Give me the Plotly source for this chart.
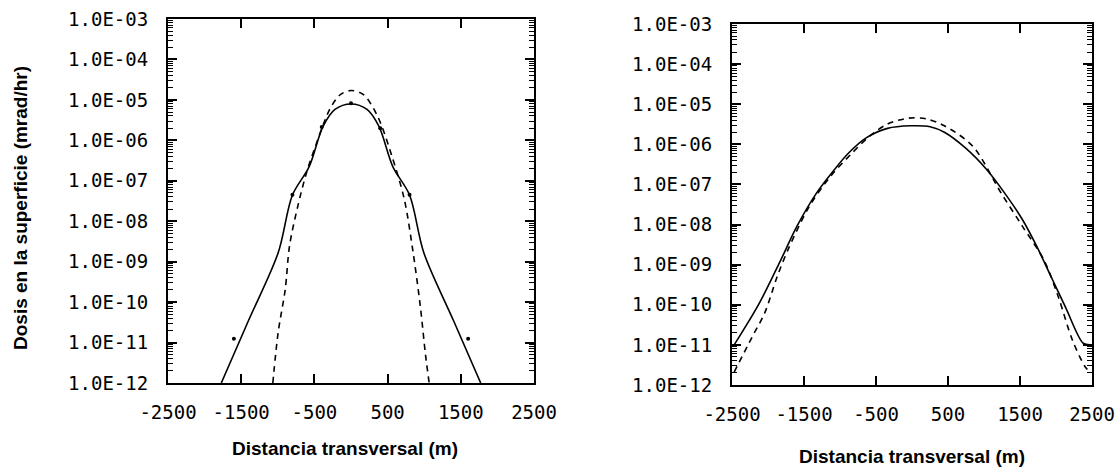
import plotly.graph_objects as go

# ---------------- data ----------------
left_solid_x = [-1772, -1400, -995, -801, -573, -382, -219, 0, 219, 382, 573, 801, 995, 1400, 1772]
left_solid_y = [1.0e-12, 3.5e-11, 1.66e-9, 4.4e-8, 2.2e-7, 2.2e-6, 5.8e-6, 7.9e-6,
                5.8e-6, 2.2e-6, 2.2e-7, 4.4e-8, 1.66e-9, 3.5e-11, 1.0e-12]

left_dash_x = [-1068, -995, -898, -840, -728, -607, -486, -291, -146, 0, 170, 364, 558, 728, 849, 946, 1019, 1068]
left_dash_y = [1.0e-12, 1.78e-11, 2.1e-10, 2.45e-9, 2.3e-8, 1.6e-7, 7.1e-7, 5.8e-6, 1.35e-5, 1.7e-5,
               1.35e-5, 3.9e-6, 4.1e-7, 3.5e-8, 1.66e-9, 8.1e-11, 4.8e-12, 1.0e-12]

left_pts_x = [-1600, -800, -400, 0, 400, 800, 1600]
left_pts_y = [1.25e-11, 4.5e-8, 2.15e-6, 8.3e-6, 2.0e-6, 4.5e-8, 1.25e-11]

right_solid_x = [-2470, -2120, -1823, -1601, -1329, -1082, -884, -637, -341, -20, 252, 450, 746,
                 1042, 1290, 1537, 1735, 1932, 2130, 2377, 2470]
right_solid_y = [1.0e-11, 1.1e-10, 1.3e-9, 8.9e-9, 6.0e-8, 2.3e-7, 6.0e-7, 1.45e-6, 2.5e-6, 2.9e-6,
                 2.75e-6, 2.0e-6, 8.0e-7, 2.3e-7, 6.0e-8, 1.3e-8, 2.8e-9, 5.0e-10, 8.9e-11, 1.1e-11, 1.0e-11]

right_dash_x = [-2470, -2218, -2045, -1873, -1725, -1428, -1131, -835, -588, -341, -44, 203, 450,
                845, 1240, 1537, 1833, 2031, 2229, 2402, 2470]
right_dash_y = [2.1e-12, 1.6e-11, 6.3e-11, 5.0e-10, 2.3e-9, 2.8e-8, 1.6e-7, 6.0e-7, 1.6e-6, 3.2e-6,
                4.5e-6, 4.3e-6, 2.9e-6, 8.9e-7, 6.0e-8, 8.9e-9, 1.3e-9, 1.6e-10, 1.3e-11, 2.9e-12, 2.1e-12]

x_tick_vals = [-2500, -1500, -500, 500, 1500, 2500]
x_tick_text = ["-2500", "-1500", "-500", "500", "1500", "2500"]
y_tick_vals = [1e-3, 1e-4, 1e-5, 1e-6, 1e-7, 1e-8, 1e-9, 1e-10, 1e-11, 1e-12]
y_tick_text = ["1.0E-03", "1.0E-04", "1.0E-05", "1.0E-06", "1.0E-07",
               "1.0E-08", "1.0E-09", "1.0E-10", "1.0E-11", "1.0E-12"]
y_minor_mult = [2, 3, 4, 5, 6, 7, 8, 9]

x_title = "Distancia transversal (m)"
y_title = "Dosis en la superficie (mrad/hr)"

W, H = 1118, 468
fig = go.Figure()

line_w = 1.6
sm = 0.9
fig.add_trace(go.Scatter(x=left_solid_x, y=left_solid_y, mode="lines", line=dict(color="black", width=line_w, shape="spline", smoothing=sm),
                         xaxis="x", yaxis="y", showlegend=False))
fig.add_trace(go.Scatter(x=left_dash_x, y=left_dash_y, mode="lines", line=dict(color="black", width=line_w, dash="6px,5px", shape="spline", smoothing=sm),
                         xaxis="x", yaxis="y", showlegend=False))
fig.add_trace(go.Scatter(x=left_pts_x, y=left_pts_y, mode="markers", marker=dict(color="black", size=4),
                         xaxis="x", yaxis="y", showlegend=False))
fig.add_trace(go.Scatter(x=right_solid_x, y=right_solid_y, mode="lines", line=dict(color="black", width=line_w, shape="spline", smoothing=sm),
                         xaxis="x2", yaxis="y2", showlegend=False))
fig.add_trace(go.Scatter(x=right_dash_x, y=right_dash_y, mode="lines", line=dict(color="black", width=line_w, dash="6px,5px", shape="spline", smoothing=sm),
                         xaxis="x2", yaxis="y2", showlegend=False))

tick_font = dict(family="DejaVu Sans Mono", size=19, color="black")
minor_vals = [m * v for v in y_tick_vals[1:] for m in y_minor_mult]

def xaxis_cfg(domain, anchor):
    return dict(domain=domain, anchor=anchor, range=[-2500, 2500], tickmode="array",
                tickvals=x_tick_vals, ticktext=x_tick_text, ticks="inside", ticklen=9, tickwidth=2,
                tickcolor="black", showline=True, linecolor="black", linewidth=2, mirror="ticks",
                showgrid=False, zeroline=False, tickfont=tick_font, ticklabelstandoff=11,
                automargin=False)

def yaxis_cfg(domain, anchor):
    return dict(domain=domain, anchor=anchor, type="log", range=[-12, -3], tickmode="array",
                tickvals=y_tick_vals, ticktext=y_tick_text, ticks="inside", ticklen=9, tickwidth=2,
                tickcolor="black", showline=True, linecolor="black", linewidth=2, mirror="ticks",
                showgrid=False, zeroline=False, tickfont=tick_font, ticklabelstandoff=14,
                automargin=False,
                minor=dict(ticks="inside", ticklen=5, tickwidth=1, tickcolor="black",
                           tickmode="array", tickvals=minor_vals, showgrid=False))

yd1 = [1 - 383 / H, 1 - 19 / H]
yd2 = [1 - 385 / H, 1 - 24 / H]

fig.update_layout(
    width=W, height=H, margin=dict(l=0, r=0, t=0, b=0, autoexpand=False),
    paper_bgcolor="white", plot_bgcolor="white",
    xaxis=xaxis_cfg([168 / W, 534 / W], "y"),
    yaxis=yaxis_cfg(yd1, "x"),
    xaxis2=xaxis_cfg([732 / W, 1092 / W], "y2"),
    yaxis2=yaxis_cfg(yd2, "x2"),
    annotations=[
        dict(text="<b>" + x_title + "</b>", xref="paper", yref="paper", x=345 / W, y=1 - 448 / H,
             xanchor="center", yanchor="middle",
             showarrow=False, font=dict(family="Liberation Sans", size=19, color="black")),
        dict(text="<b>" + x_title + "</b>", xref="paper", yref="paper", x=912 / W, y=1 - 456 / H,
             xanchor="center", yanchor="middle",
             showarrow=False, font=dict(family="Liberation Sans", size=19, color="black")),
        dict(text="<b>" + y_title + "</b>", xref="paper", yref="paper", x=20 / W, y=1 - 208 / H,
             xanchor="center", yanchor="middle",
             showarrow=False, textangle=-90, font=dict(family="Liberation Sans", size=19, color="black")),
    ],
)

fig.write_html("out.html")
